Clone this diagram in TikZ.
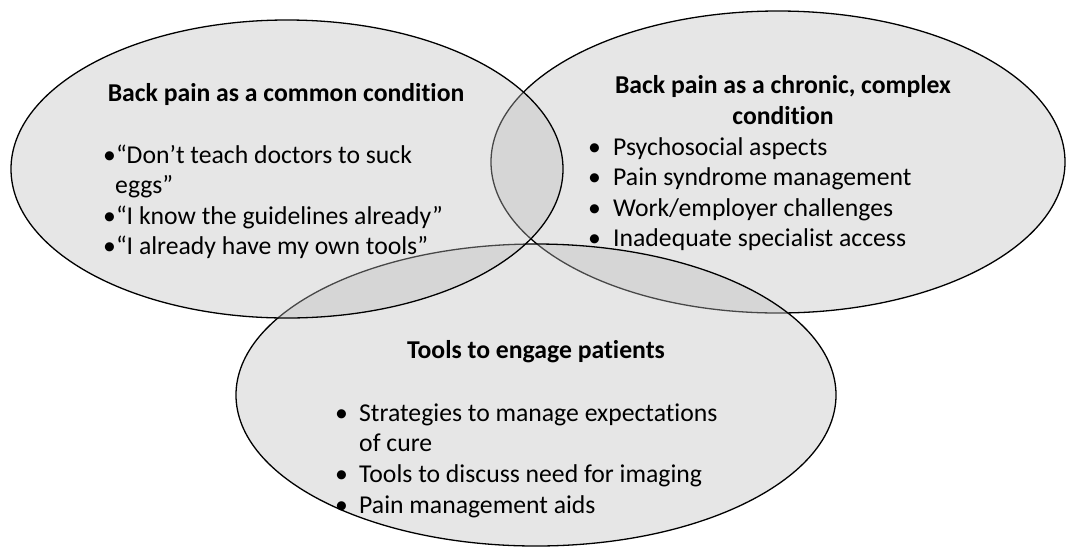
\documentclass[tikz,border=0pt]{standalone}
\usepackage{fontspec}
\setmainfont[Ligatures=NoCommon]{Carlito}
\usepackage{tikz}
\usetikzlibrary{positioning}
\definecolor{ovalgray}{gray}{0.74}

\tikzset{
	oval/.style={draw=black, line width=1.3pt, fill=ovalgray, fill opacity=0.38},
	headtext/.style={font=\fontsize{25.7}{31}\selectfont\bfseries, anchor=base, inner sep=0pt},
	listtext/.style={font=\fontsize{25.7}{31}\selectfont, anchor=base west, inner sep=0pt},
}
\newcommand{\blt}[1]{\makebox[#1][l]{\textbullet}}

\begin{document}
\begin{tikzpicture}[x=1pt,y=-1pt]
			%\draw [help lines] (0,0) grid (1067,547);
			\useasboundingbox (0,0) rectangle (1067,547);
			
			% order: right, bottom, left
			\draw [oval] (778,162) ellipse [x radius=287, y radius=151];
			\draw [oval] (536,395) ellipse [x radius=300, y radius=151];
			\draw [oval] (287,169) ellipse [x radius=276, y radius=149];
			
			% common condition
			\node [headtext] (commonhead) at (286,101) {Back pain as a common condition};
			\node [listtext] (eggs1) at (103,163) {\textbullet“Don’t teach doctors to suck};
			\node [listtext] (eggs2) at (115,193.5) {eggs”};
			\node [listtext] (guide) at (103,224) {\textbullet“I know the guidelines already”};
			\node [listtext] (owntools) at (103,254.5) {\textbullet“I already have my own tools”};
			
			% chronic, complex condition
			\node [headtext] (chronhead1) at (783,93) {Back pain as a chronic, complex};
			\node [headtext] (chronhead2) at (783,124) {condition};
			\node [listtext] (psycho) at (588,155) {\blt{25pt}Psychosocial aspects};
			\node [listtext] (syndrome) at (588,185.5) {\blt{25pt}Pain syndrome management};
			\node [listtext] (work) at (588,216) {\blt{25pt}Work/employer challenges};
			\node [listtext] (access) at (588,246.5) {\blt{25pt}Inadequate specialist access};
			
			% engage patients
			\node [headtext] (toolshead) at (536,358.5) {Tools to engage patients};
			\node [listtext] (cure1) at (335,421) {\blt{24pt}Strategies to manage expectations};
			\node [listtext] (cure2) at (359,451) {of cure};
			\node [listtext] (imaging) at (335,482) {\blt{24pt}Tools to discuss need for imaging};
			\node [listtext] (aids) at (335,513) {\blt{24pt}Pain management aids};
	\end{tikzpicture}
\end{document}
